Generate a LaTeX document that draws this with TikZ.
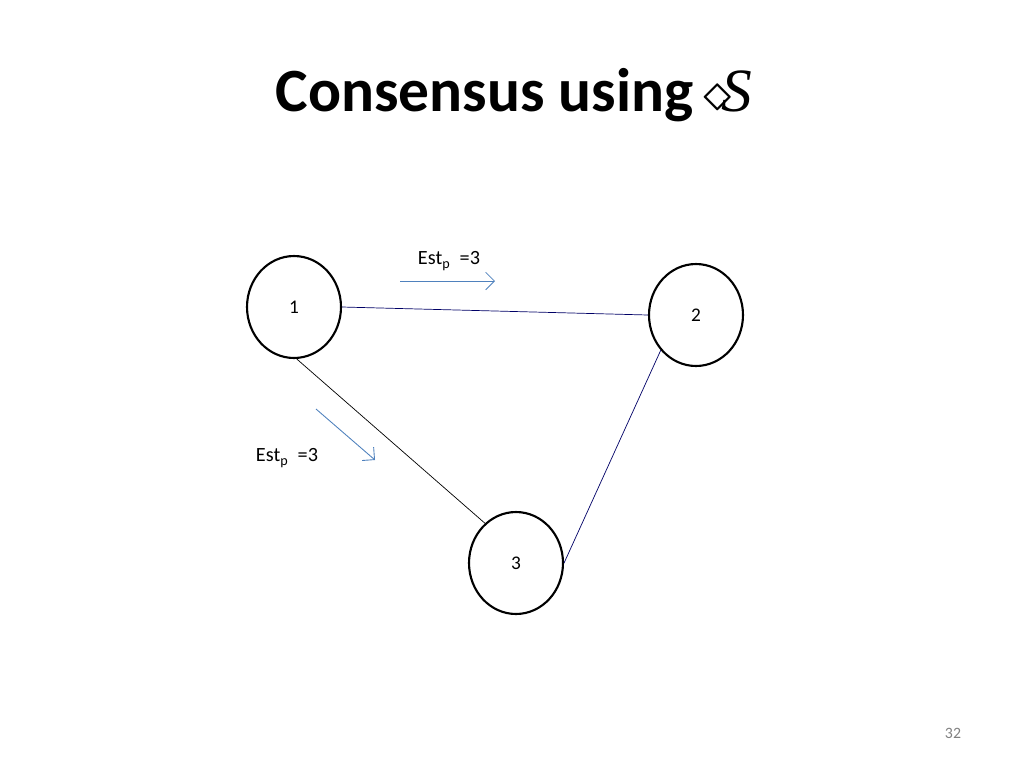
\documentclass[tikz,border=0pt]{standalone}
\usepackage{fontspec}
\setmainfont{Carlito}
\newfontfamily\serifS{Liberation Serif}
\usetikzlibrary{shapes.geometric,arrows.meta}
\tikzset{
  proc/.style={shape=ellipse, draw, line width=1.2pt, inner sep=0, minimum width=1.88cm, minimum height=2.04cm, font=\fontsize{11}{13}\selectfont},
  msg/.style={draw={rgb,255:red,79;green,129;blue,189}, -{Straight Barb[length=5pt]}, line width=0.5pt},
  lbl/.style={font=\fontsize{11.5}{13}\selectfont}
}
\begin{document}
\begin{tikzpicture}[x=0.02cm, y=-0.02cm]
	\useasboundingbox (0,0) rectangle (1024,768);
	\node[font=\bfseries\fontsize{35}{38}\selectfont] (title) at (514,95) {Consensus using\,$\scalebox{1.3}{$\diamond$}$\!{\serifS\mdseries\itshape S}};
	\node[proc] (p1) at (294,307) {1};
	\node[proc] (p2) at (696,315) {2};
	\node[proc] (p3) at (516,563) {3};
	\draw[draw=blue!40!black] (p1.east) -- (p2.west);
	\draw (p1.-87) -- (p3.128);
	\draw[draw=blue!40!black] (p2.-135) -- (p3.east);
	\coordinate (a1) at (400,281);
	\coordinate (b1) at (495,281);
	\coordinate (a2) at (316,409);
	\coordinate (b2) at (375,460);
	\draw[msg] (a1) -- (b1);
	\draw[msg] (a2) -- (b2);
	\node[lbl] (e1) at (449,261) {Est\textsubscript{p}\ \ =3};
	\node[lbl] (e2) at (287,458) {Est\textsubscript{p}\ \ =3};
	\node[font=\fontsize{9}{10}\selectfont, text=gray] (pg) at (953,733) {32};
\end{tikzpicture}
\end{document}
